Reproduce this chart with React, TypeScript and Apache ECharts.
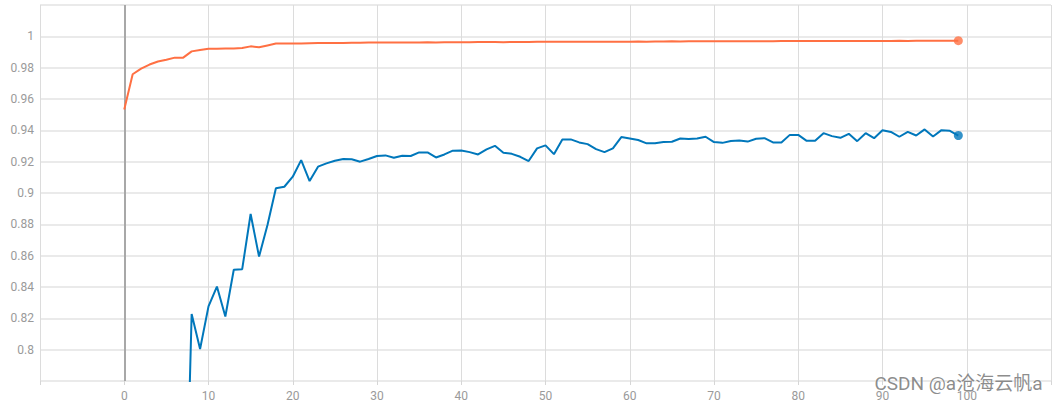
import React, { useEffect, useRef } from "react";
import * as echarts from "echarts";

const trainSteps: number[] = Array.from({ length: 100 }, (_, i) => i);
const trainAcc: number[] = [
  0.9533, 0.9758, 0.9794, 0.982, 0.9839, 0.985, 0.9864, 0.9864, 0.9904, 0.9913,
  0.9921, 0.9921, 0.9922, 0.9923, 0.9925, 0.9936, 0.993, 0.9942, 0.9954, 0.9955,
  0.9955, 0.9955, 0.9956, 0.9957, 0.9958, 0.9958, 0.9958, 0.9959, 0.9959, 0.996,
  0.996, 0.996, 0.9961, 0.9961, 0.9961, 0.9961, 0.9962, 0.9961, 0.9962, 0.9963,
  0.9963, 0.9962, 0.9964, 0.9964, 0.9964, 0.9963, 0.9964, 0.9964, 0.9964, 0.9965,
  0.9965, 0.9965, 0.9965, 0.9965, 0.9966, 0.9965, 0.9966, 0.9966, 0.9966, 0.9966,
  0.9966, 0.9967, 0.9966, 0.9967, 0.9967, 0.9968, 0.9967, 0.9968, 0.9968, 0.9968,
  0.9968, 0.9968, 0.9969, 0.9968, 0.9969, 0.9969, 0.9969, 0.9969, 0.997, 0.997,
  0.997, 0.997, 0.997, 0.997, 0.9971, 0.997, 0.9971, 0.9971, 0.9971, 0.9971,
  0.9971, 0.9971, 0.9972, 0.9971, 0.9972, 0.9972, 0.9972, 0.9972, 0.9972, 0.9972,
];

const valSteps: number[] = Array.from({ length: 93 }, (_, i) => i + 7);
const valAcc: number[] = [
  0.62, 0.8227, 0.8004, 0.8276, 0.8403, 0.8212, 0.851, 0.8514, 0.8866, 0.8594,
  0.8796, 0.903, 0.904, 0.9104, 0.921, 0.9076, 0.9168, 0.9189, 0.9206, 0.9217,
  0.9215, 0.92, 0.9217, 0.9236, 0.924, 0.9225, 0.9238, 0.9236, 0.9259, 0.9259,
  0.9227, 0.9246, 0.927, 0.9271, 0.9261, 0.9246, 0.9278, 0.9301, 0.9257, 0.925,
  0.9231, 0.9204, 0.9285, 0.9304, 0.9248, 0.9342, 0.9342, 0.9323, 0.9312, 0.928,
  0.9261, 0.9285, 0.9357, 0.9348, 0.9338, 0.9317, 0.9317, 0.9325, 0.9327, 0.9348,
  0.9344, 0.9348, 0.9359, 0.9325, 0.932, 0.9332, 0.9335, 0.9328, 0.9346, 0.935,
  0.9323, 0.9323, 0.9371, 0.9371, 0.9333, 0.9333, 0.9382, 0.9363, 0.9352, 0.9378,
  0.9331, 0.9382, 0.935, 0.9401, 0.939, 0.9359, 0.939, 0.9367, 0.9406, 0.9361,
  0.9401, 0.9397, 0.9367,
];

const xTicks: number[] = [0, 10, 20, 30, 40, 50, 60, 70, 80, 90, 100];
const watermark = "CSDN @a沧海云帆a";

const ORANGE = "#ff7043";
const BLUE = "#0077bb";

export default function App() {
  const ref = useRef<HTMLDivElement>(null);
  useEffect(() => {
    if (!ref.current) return;
    const chart = echarts.init(ref.current, undefined, { renderer: "svg" });
    const trainData = trainSteps.map((s, i) => [s, trainAcc[i]]);
    const valData = valSteps.map((s, i) => [s, valAcc[i]]);
    chart.setOption({
      animation: false,
      grid: { left: 40, right: 6, top: 5, bottom: 25, containLabel: false },
      xAxis: {
        type: "value",
        min: -10,
        max: 110,
        interval: 10,
        axisLine: { show: false },
        axisTick: { show: true, length: 4, lineStyle: { color: "#d6d6d6" } },
        axisLabel: {
          color: "#9a9a9a",
          fontFamily: "Roboto",
          fontSize: 12,
          margin: 9,
          formatter: (v: number) => (xTicks.includes(v) ? String(v) : ""),
        },
        splitLine: { show: true, lineStyle: { color: "#dcdcdc", width: 1 } },
      },
      yAxis: {
        type: "value",
        min: 0.78,
        max: 1.02,
        interval: 0.02,
        axisLine: { show: false },
        axisTick: { show: true, length: 4, lineStyle: { color: "#e3e3e3", width: 1.5 } },
        axisLabel: {
          color: "#9a9a9a",
          fontFamily: "Roboto",
          fontSize: 12,
          margin: 6,
          formatter: (v: number) => {
            const r = Math.round(v * 100) / 100;
            if (r < 0.795 || r > 1.005) return "";
            return String(r);
          },
        },
        splitLine: { show: true, lineStyle: { color: "#e3e3e3", width: 1.5 } },
      },
      series: [
        {
          type: "line",
          data: trainData,
          showSymbol: false,
          lineStyle: { color: ORANGE, width: 2 },
          itemStyle: { color: ORANGE },
          z: 3,
          markLine: {
            silent: true,
            symbol: "none",
            label: { show: false },
            lineStyle: { color: "#a8a8a8", width: 2, type: "solid" },
            data: [{ xAxis: 0 }],
            z: 1,
          },
        },
        {
          type: "line",
          data: valData,
          showSymbol: false,
          lineStyle: { color: BLUE, width: 2 },
          itemStyle: { color: BLUE },
          z: 3,
        },
        {
          type: "scatter",
          data: [trainData[trainData.length - 1]],
          symbolSize: 9,
          itemStyle: { color: ORANGE },
          z: 4,
        },
        {
          type: "scatter",
          data: [valData[valData.length - 1]],
          symbolSize: 9,
          itemStyle: { color: BLUE },
          z: 4,
        },
      ],
      graphic: [
        {
          type: "text",
          right: 14,
          top: 373,
          z: 100,
          style: {
            text: watermark,
            fill: "rgba(120,120,120,0.85)",
            font: "19px Roboto, 'Noto Sans CJK SC', sans-serif",
            stroke: "rgba(255,255,255,0.6)",
            lineWidth: 1,
          },
        },
      ],
    });
    return () => chart.dispose();
  }, []);
  return <div ref={ref} style={{ width: 1057, height: 406, position: "absolute", left: 0, top: 0 }} />;
}
